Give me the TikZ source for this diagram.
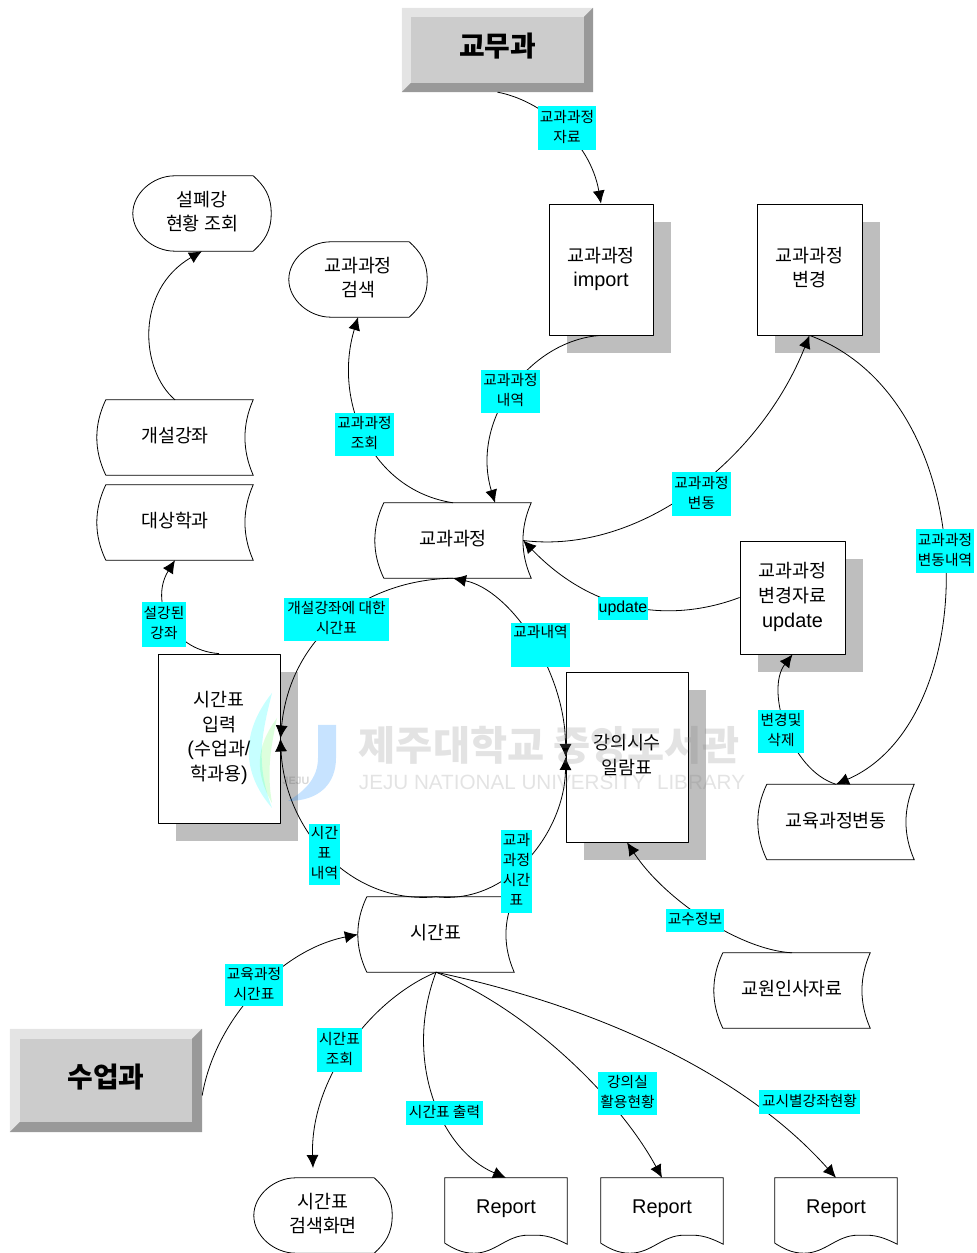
\documentclass[tikz,border=0pt]{standalone}
\usepackage{fontspec}
\usepackage[x11names, rgb, dvipsnames]{xcolor}
\setmainfont{Noto Sans CJK KR}
\newfontfamily\latfont[Scale=1.08]{Liberation Sans}
\usetikzlibrary{arrows.meta,shadows,backgrounds}
\definecolor{shadowgray}{HTML}{BEBEBE}
\definecolor{btnface}{HTML}{CCCCCC}
\definecolor{btnlight}{HTML}{E4E4E4}
\definecolor{btndark}{HTML}{999999}
\tikzset{
  mainfont/.style={font=\fontsize{18.5}{25}\selectfont,align=center,inner sep=0pt,text depth=5.2bp},
  pbox/.style 2 args={mainfont,draw,line width=.8bp,fill=white,minimum width=#1,minimum height=#2,
    drop shadow={shadow xshift=18bp,shadow yshift=-18bp,fill=shadowgray,opacity=1}},
  stbox/.style={mainfont,minimum width=156bp,minimum height=75bp},
  dbox/.style={mainfont,minimum width=138bp,minimum height=75bp},
  rbox/.style={mainfont,minimum width=122bp,minimum height=75bp,text depth=18bp},
  btnbox/.style 2 args={font=\fontsize{28}{30}\selectfont\bfseries,inner sep=0pt,text depth=10bp,minimum width=#1,minimum height=#2},
  lbl/.style 2 args={font=\fontsize{14.8}{20}\selectfont,align=center,fill=cyan,inner sep=0pt,text depth=3.8bp,minimum width=#1,minimum height=#2},
  conn/.style={->,line width=.8bp,black},
  shapeline/.style={line width=.8bp},
  >={Latex[length=13bp,width=12bp]},
}
\begin{document}
\begin{tikzpicture}[line join=bevel]
\useasboundingbox (0bp,0bp) rectangle (977bp,1253bp);
%%
\node (btop) at (497.5bp,1203bp) [btnbox={191bp}{84bp}] {교무과};
  \node (bclass) at (106bp,172.5bp) [btnbox={192bp}{103bp}] {수업과};
  \node (pimport) at (601bp,983.5bp) [pbox={104bp}{131bp}] {교과과정\\{\latfont import}};
  \node (pchange) at (809.5bp,983.5bp) [pbox={105bp}{131bp}] {교과과정\\변경};
  \node (pdata) at (792.5bp,655.5bp) [pbox={105bp}{113bp}] {교과과정\\변경자료\\{\latfont update}};
  \node (pweek) at (627bp,496bp) [pbox={122bp}{170bp}] {강의시수\\일람표};
  \node (pentry) at (219bp,514.5bp) [pbox={122bp}{169bp}] {시간표\\입력\\{\latfont (}수업과{\latfont /}\\학과용{\latfont )}};
  \node (sopen) at (175bp,815.5bp) [stbox] {개설강좌};
  \node (starget) at (175bp,730.5bp) [stbox] {대상학과};
  \node (scurr) at (453bp,712.5bp) [stbox] {교과과정};
  \node (stable) at (436bp,318.5bp) [stbox] {시간표};
  \node (schange) at (836bp,431bp) [stbox] {교육과정변동};
  \node (sstaff) at (792bp,262.5bp) [stbox] {교원인사자료};
  \node (dclosed) at (202bp,1039.5bp) [dbox] {설폐강\\현황 조회};
  \node (dsearch) at (358bp,973.5bp) [dbox] {교과과정\\검색};
  \node (dresult) at (323bp,37.5bp) [dbox] {시간표\\검색화면};
  \node (r1) at (506bp,37.5bp) [rbox] {\latfont Report};
  \node (r2) at (662bp,37.5bp) [rbox] {\latfont Report};
  \node (r3) at (836bp,37.5bp) [rbox] {\latfont Report};
  \coordinate (tipresult) at (313bp,85bp);
%
\begin{scope}[on background layer]
  \foreach \n/\d in {btop/9bp,bclass/10bp} {
    \fill [btnface] (\n.south west) rectangle (\n.north east);
    \fill [btnlight] (\n.south west) -- (\n.north west) -- (\n.north east)
      -- ([shift={(-\d,-\d)}]\n.north east) -- ([shift={(\d,-\d)}]\n.north west) -- ([shift={(\d,\d)}]\n.south west) -- cycle;
    \fill [btndark] (\n.south west) -- (\n.south east) -- (\n.north east)
      -- ([shift={(-\d,-\d)}]\n.north east) -- ([shift={(-\d,\d)}]\n.south east) -- ([shift={(\d,\d)}]\n.south west) -- cycle;
  }
  \foreach \n in {sopen,starget,scurr,stable,schange,sstaff} {
    \draw [shapeline] ([xshift=9bp]\n.north west) -- (\n.north east)
      .. controls +(-11bp,-25bp) and +(-11bp,25bp) .. (\n.south east)
      -- ([xshift=9bp]\n.south west)
      .. controls +(-12bp,25bp) and +(-12bp,-25bp) .. cycle;
  }
  \foreach \n in {dclosed,dsearch,dresult} {
    \draw [shapeline] (\n.west) .. controls +(0bp,20bp) and +(-22bp,0bp) .. ([xshift=42bp]\n.north west)
      -- ([xshift=-18bp]\n.north east)
      .. controls +(11bp,-10bp) and +(0bp,18bp) .. (\n.east)
      .. controls +(0bp,-18bp) and +(11bp,10bp) .. ([xshift=-18bp]\n.south east)
      -- ([xshift=42bp]\n.south west)
      .. controls +(-22bp,0bp) and +(0bp,-20bp) .. cycle;
  }
  \foreach \n in {r1,r2,r3} {
    \draw [shapeline] ([yshift=10bp]\n.south west) -- (\n.north west) -- (\n.north east) -- ([yshift=9bp]\n.south east)
      .. controls +(-20bp,10bp) and +(13bp,0bp) .. ([shift={(-39bp,18bp)}]\n.south east)
      .. controls +(-22bp,0bp) and +(22bp,0bp) .. ([xshift=29bp]\n.south west)
      .. controls +(-12bp,0bp) and +(8bp,-5bp) .. ([yshift=10bp]\n.south west);
  }
\end{scope}
%
  \draw [conn] (btop.south) .. controls (540bp,1153bp) and (590bp,1113bp) .. (pimport.north);
  \draw [conn] (pimport.south) .. controls (530bp,913bp) and (470bp,833bp) .. ([xshift=42bp]scurr.north);
  \draw [conn] (scurr.north) .. controls (370bp,763bp) and (333bp,853bp) .. (dsearch.south);
  \draw [conn] (sopen.north) .. controls (140bp,883bp) and (135bp,963bp) .. (dclosed.south);
  \draw [conn] (pentry.north) .. controls (170bp,603bp) and (150bp,653bp) .. (starget.south);
  \draw [conn] ([xshift=-8bp]scurr.east) .. controls (640bp,698bp) and (760bp,793bp) .. (pchange.south);
  \draw [conn] (pdata.west) .. controls (680bp,633bp) and (600bp,633bp) .. ([xshift=-8bp]scurr.east);
  \draw [conn] (pchange.south) .. controls (985bp,853bp) and (985bp,533bp) .. (schange.north);
  \draw [conn] (schange.north) .. controls (790bp,483bp) and (765bp,563bp) .. (pdata.south);
  \draw [conn] (scurr.south) .. controls (360bp,673bp) and (290bp,613bp) .. (pentry.east);
  \draw [conn] (stable.north) .. controls (350bp,348bp) and (285bp,423bp) .. (pentry.east);
  \draw [conn] (stable.north) .. controls (510bp,348bp) and (565bp,423bp) .. (pweek.west);
  \draw [conn,<->] (scurr.south) .. controls (510bp,663bp) and (565bp,583bp) .. (pweek.west);
  \draw [conn] (sstaff.north) .. controls (740bp,303bp) and (665bp,353bp) .. (pweek.south);
  \draw [conn] ([yshift=-15bp]bclass.east) .. controls (215bp,233bp) and (280bp,303bp) .. (stable.west);
  \draw [conn] (stable.south) .. controls (370bp,253bp) and (310bp,173bp) .. (tipresult);
  \draw [conn] (stable.south) .. controls (403bp,193bp) and (440bp,103bp) .. (r1.north);
  \draw [conn] (stable.south) .. controls (530bp,243bp) and (620bp,153bp) .. (r2.north);
  \draw [conn] (stable.south) .. controls (590bp,248bp) and (740bp,183bp) .. (r3.north);
%
  \node (l1) at (567bp,1125bp) [lbl={58bp}{44bp}] {교과과정\\자료};
  \node (l2) at (510.5bp,861.5bp) [lbl={59bp}{43bp}] {교과과정\\내역};
  \node (l3) at (364.5bp,818.5bp) [lbl={59bp}{43bp}] {교과과정\\조회};
  \node (l4) at (701.5bp,759bp) [lbl={59bp}{44bp}] {교과과정\\변동};
  \node (l5) at (945bp,702bp) [lbl={58bp}{44bp}] {교과과정\\변동내역};
  \node (l6) at (623bp,644.5bp) [lbl={50bp}{23bp}] {\latfont update};
  \node (l7) at (336.5bp,633.5bp) [lbl={105bp}{43bp}] {개설강좌에 대한\\시간표};
  \node (l8) at (540.5bp,608bp) [lbl={59bp}{44bp},text depth=28bp] {교과내역};
  \node (l9) at (164bp,628.5bp) [lbl={44bp}{45bp}] {설강된\\강좌};
  \node (l10) at (781bp,521.5bp) [lbl={46bp}{43bp}] {변경및\\삭제};
  \node (l11) at (324.5bp,398.5bp) [lbl={31bp}{61bp}] {시간\\표\\내역};
  \node (l12) at (516.5bp,381.5bp) [lbl={31bp}{83bp}] {교과\\과정\\시간\\표};
  \node (l13) at (695bp,332.5bp) [lbl={58bp}{23bp}] {교수정보};
  \node (l14) at (254bp,268bp) [lbl={58bp}{42bp}] {교육과정\\시간표};
  \node (l15) at (339.5bp,203bp) [lbl={45bp}{44bp}] {시간표\\조회};
  \node (l16) at (444.5bp,140bp) [lbl={77bp}{24bp}] {시간표 출력};
  \node (l17) at (627.5bp,159.5bp) [lbl={59bp}{43bp}] {강의실\\활용현황};
  \node (l18) at (809.5bp,151bp) [lbl={101bp}{24bp}] {교시별강좌현황};
%
\begin{scope}[opacity=.22]
  \fill [RoyalBlue] (318bp,528bp) -- (336bp,528bp) -- (336bp,495bp) .. controls (336bp,470bp) and (320bp,452bp) .. (288bp,452bp)
    .. controls (305bp,462bp) and (318bp,475bp) .. (318bp,495bp) -- cycle;
  \fill [cyan] (272bp,560bp) .. controls (240bp,520bp) and (242bp,480bp) .. (272bp,445bp)
    .. controls (255bp,490bp) and (262bp,520bp) .. cycle;
  \fill [Green!60] (277bp,535bp) .. controls (255bp,505bp) and (255bp,480bp) .. (272bp,450bp)
    .. controls (266bp,485bp) and (272bp,510bp) .. cycle;
  \node (wmlogo) at (296bp,472bp) [text=black!70,font=\fontsize{10}{10}\selectfont\bfseries,inner sep=0pt] {\latfont JEJU};
  \node (wmko) at (549bp,508bp) [text=black!50,font=\fontsize{40.5}{42}\selectfont\bfseries,inner sep=0pt] {제주대학교 중앙도서관};
  \node (wmen) at (552bp,471bp) [text=black!50,font=\fontsize{19.2}{20}\selectfont,inner sep=0pt] {\latfont JEJU NATIONAL UNIVERSITY\ \ LIBRARY};
\end{scope}
%
\end{tikzpicture}
\end{document}
